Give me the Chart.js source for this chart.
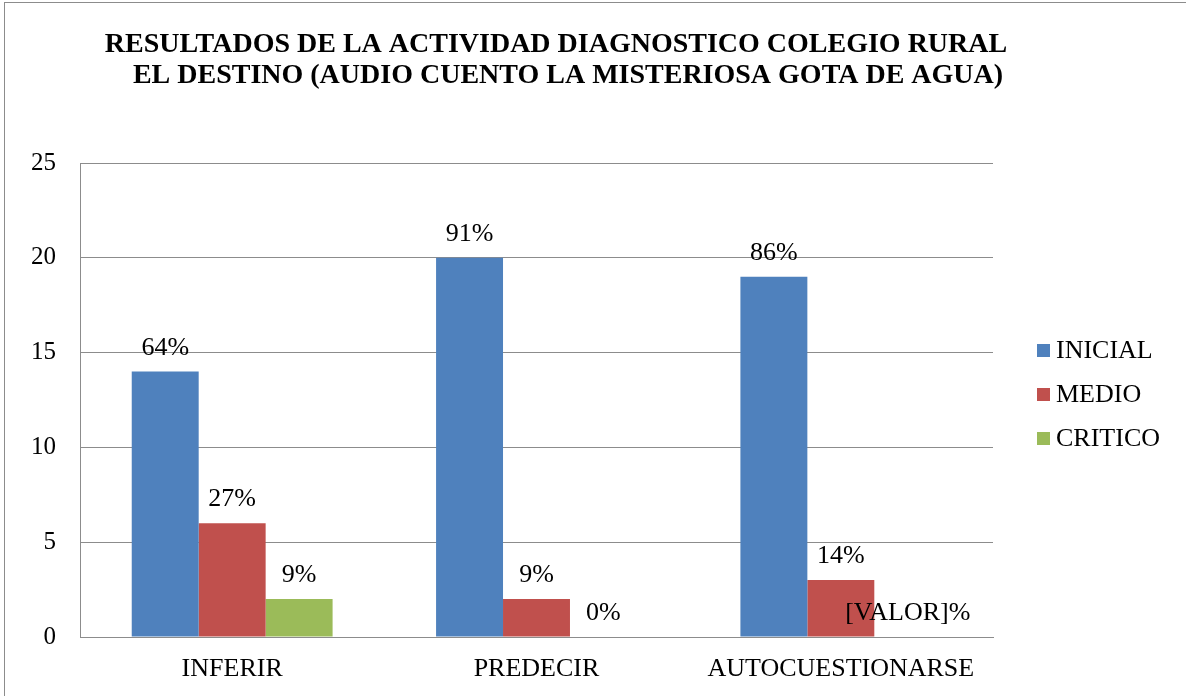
<!DOCTYPE html>
<html>
<head>
<meta charset="utf-8">
<script src="https://cdn.jsdelivr.net/npm/chart.js@4/dist/chart.umd.min.js"></script>
<style>
  html, body { margin: 0; padding: 0; background: #fff; }
  #wrap { width: 1186px; height: 696px; position: relative; }
</style>
</head>
<body>
<div id="wrap"><canvas id="chart" width="1186" height="696"></canvas></div>
<script>
// Datos del gráfico
const categories = ['INFERIR', 'PREDECIR', 'AUTOCUESTIONARSE'];
const inicial = [14, 20, 19];
const medio = [6, 2, 3];
const critico = [2, 0, 0];
const inicialLabels = ['64%', '91%', '86%'];
const medioLabels = ['27%', '9%', '14%'];
const criticoLabels = ['9%', '0%', '[VALOR]%'];
const titleLines = [
    'RESULTADOS DE LA ACTIVIDAD DIAGNOSTICO COLEGIO RURAL',
    'EL DESTINO (AUDIO CUENTO LA MISTERIOSA GOTA DE AGUA)'
];

const serif = '"Liberation Serif", "Times New Roman", serif';
const gridColor = '#8c8c8c';

/**
 * Dibuja borde, título, leyenda y etiquetas de datos.
 */
const decorations = {
    id: 'decorations',
    afterDraw(chart) {
        const ctx = chart.ctx;
        ctx.save();

        // borde exterior
        ctx.strokeStyle = '#8c8c8c';
        ctx.lineWidth = 1;
        ctx.strokeRect(4.5, 2.5, 1200, 720);

        // título
        ctx.fillStyle = '#000';
        ctx.font = 'bold 28px ' + serif;
        ctx.textAlign = 'center';
        ctx.textBaseline = 'alphabetic';
        ctx.fillText(titleLines[0], 556, 52);
        ctx.fillText(titleLines[1], 568, 83);

        // etiquetas de datos
        ctx.font = '26px ' + serif;
        const labelSets = [inicialLabels, medioLabels, criticoLabels];
        chart.data.datasets.forEach((ds, i) => {
            chart.getDatasetMeta(i).data.forEach((bar, j) => {
                ctx.fillText(labelSets[i][j], bar.x, bar.y - 17);
            });
        });

        // leyenda
        ctx.textAlign = 'left';
        ctx.textBaseline = 'middle';
        chart.data.datasets.forEach((ds, i) => {
            const y = 350 + i * 44;
            ctx.fillStyle = ds.backgroundColor;
            ctx.fillRect(1037, y - 6, 13, 13);
            ctx.fillStyle = '#000';
            ctx.fillText(ds.label, 1056, y + 1);
        });

        ctx.restore();
    }
};

new Chart(document.getElementById('chart').getContext('2d'), {
    type: 'bar',
    data: {
        labels: categories,
        datasets: [
            { label: 'INICIAL', data: inicial, backgroundColor: '#4f81bd' },
            { label: 'MEDIO', data: medio, backgroundColor: '#c0504d' },
            { label: 'CRITICO', data: critico, backgroundColor: '#9bbb59' }
        ]
    },
    options: {
        responsive: false,
        animation: false,
        layout: { padding: { top: 163, right: 193, bottom: 0, left: 30 } },
        datasets: { bar: { categoryPercentage: 0.66, barPercentage: 1.0 } },
        plugins: {
            legend: { display: false },
            title: { display: false },
            tooltip: { enabled: false }
        },
        scales: {
            x: {
                afterFit(scale) { scale.height = 59; },
                grid: { display: false, drawTicks: false },
                border: { color: gridColor },
                ticks: { color: '#000', font: { family: serif, size: 26 }, padding: 17 }
            },
            y: {
                min: 0,
                max: 25,
                afterFit(scale) { scale.width = 50; },
                grid: { color: gridColor, drawTicks: false },
                border: { color: gridColor },
                ticks: { stepSize: 5, color: '#000', font: { family: serif, size: 25 }, padding: 24 }
            }
        }
    },
    plugins: [decorations]
});
</script>
</body>
</html>
